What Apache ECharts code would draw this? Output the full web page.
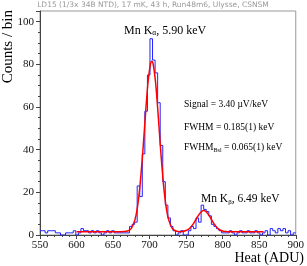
<!DOCTYPE html>
<html><head><meta charset="utf-8">
<script src="https://cdn.jsdelivr.net/npm/echarts@6/dist/echarts.min.js"></script>
<style>html,body{margin:0;padding:0;background:#fff}#c{width:307px;height:266px}</style>
</head><body><div id="c"></div>
<script>
// histogram: bins of 3.5 ADU starting at 550
const binStart = 550;
const binWidth = 3.5;
const counts = [
 2,2,1,2,2,2,1,1,0,0,
 1,1,1,2,0,1,3,2,2,1,
 2,1,2,1,0,1,2,1,2,1,
 1,1,1,1,1,4,5,6,23,18,
 38,58,75,92,82,76,62,42,25,14,
 8,4,2,0,1,2,0,0,2,4,
 3,8,6,14,12,11,9,5,4,3,
 2,1,1,1,2,1,0,1,2,1,
 1,2,1,1,2,1,0,1,2,0,
 3,2,1,3,2,3,1,2,0,1
];
// fit curve
const fitX = [600,620,640,660,670,675,680,683,685,687,690,692,694,696,698,701,703,705,708,710,712,714,716,719,721,723,726,731,736,742,750,755,760,765,770,774,778,783,788,793,798,804,815,830,845,856];
const fitY = [1.5,1.5,1.5,1.5,1.85,3.1,7.2,12.3,17.3,23.7,35.9,45.2,54.9,64.1,72.1,79.9,81.5,79.9,72.1,64.1,54.9,45.2,35.9,23.7,17.3,12.3,7.2,3.1,1.85,1.55,2.1,3.2,5.3,8.2,10.7,11.5,10.7,8.2,5.3,3.2,2.1,1.6,1.5,1.5,1.5,1.5];
const xTickInterval = 50;
const yTickInterval = 20;

const histData = counts.map((c, i) => [binStart + i * binWidth, c]);
histData.push([binStart + counts.length * binWidth, counts[counts.length - 1]]);
const fitData = fitX.map((x, i) => [x, fitY[i]]);

const serif = '"Liberation Serif", "DejaVu Serif", serif';
const chart = echarts.init(document.getElementById('c'), null, {renderer: 'canvas'});
chart.setOption({
  animation: false,
  backgroundColor: '#fff',
  grid: {left: 40, right: 8, top: 11, bottom: 31, show: true, borderColor: '#999', borderWidth: 1, backgroundColor: 'transparent'},
  xAxis: {
    type: 'value', min: 550, max: 900, interval: xTickInterval,
    axisLine: {show: true, onZero: false, lineStyle: {color: '#444', width: 1}},
    axisTick: {show: true, inside: false, length: 4, lineStyle: {color: '#444'}},
    minorTick: {show: true, splitNumber: 5, length: 2, lineStyle: {color: '#444'}},
    splitLine: {show: false},
    axisLabel: {color: '#111', fontFamily: serif, fontSize: 11, margin: 5}
  },
  yAxis: {
    type: 'value', min: 0, max: 105, interval: yTickInterval,
    axisLine: {show: true, lineStyle: {color: '#444', width: 1}},
    axisTick: {show: true, inside: false, length: 4, lineStyle: {color: '#444'}},
    minorTick: {show: true, splitNumber: 4, length: 2, lineStyle: {color: '#444'}},
    splitLine: {show: false},
    axisLabel: {color: '#111', fontFamily: serif, fontSize: 11, margin: 6,
      formatter: v => (v % 20 === 0 ? String(v) : '')}
  },
  series: [
    {type: 'line', data: histData, step: 'end', symbol: 'none',
     lineStyle: {color: '#2323ff', width: 1}, z: 2},
    {type: 'line', data: fitData, smooth: 0.3, symbol: 'none',
     lineStyle: {color: '#ff0000', width: 1.5}, z: 3}
  ],
  graphic: [
    {type: 'text', x: 153, y: 5, style: {text: 'LD15 (1/3x 34B NTD), 17 mK, 43 h, Run48m6, Ulysse, CSNSM',
      font: '7.5px "DejaVu Sans", sans-serif', fill: '#9a9a9a', textAlign: 'center', textVerticalAlign: 'middle'}},
    {type: 'text', x: 8, y: 10, rotation: Math.PI / 2, style: {text: 'Counts / bin',
      font: '15px ' + serif, fill: '#000', textAlign: 'right', textVerticalAlign: 'middle'}},
    {type: 'text', x: 304, y: 258, style: {text: 'Heat (ADU)',
      font: '14px ' + serif, fill: '#000', textAlign: 'right', textVerticalAlign: 'middle'}},
    {type: 'text', x: 124, y: 23, style: {text: '{a|Mn K}{s|α}{a|, 5.90 keV}',
      rich: {a: {font: '12px ' + serif, fill: '#000', lineHeight: 15},
             s: {font: '7.5px ' + serif, fill: '#000', padding: [6, 0, 0, 0], lineHeight: 15}}}},
    {type: 'text', x: 184, y: 99, style: {text: 'Signal = 3.40 µV/keV', font: '9.5px ' + serif, fill: '#000'}},
    {type: 'text', x: 184, y: 122, style: {text: 'FWHM = 0.185(1) keV', font: '9.5px ' + serif, fill: '#000'}},
    {type: 'text', x: 184, y: 141, style: {text: '{a|FWHM}{s|Bsl}{a| = 0.065(1) keV}',
      rich: {a: {font: '9.5px ' + serif, fill: '#000', lineHeight: 13},
             s: {font: '6px ' + serif, fill: '#000', padding: [5, 0, 0, 0], lineHeight: 13}}}},
    {type: 'text', x: 201, y: 192, style: {text: '{a|Mn K}{s|β}{a|, 6.49 keV}',
      rich: {a: {font: '11.5px ' + serif, fill: '#000', lineHeight: 14},
             s: {font: '7px ' + serif, fill: '#000', padding: [6, 0, 0, 0], lineHeight: 14}}}}
  ]
});
</script>
</body></html>
